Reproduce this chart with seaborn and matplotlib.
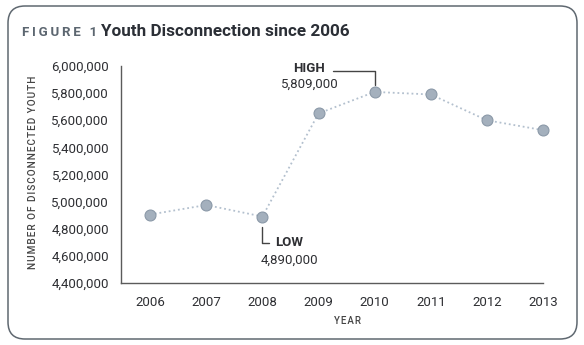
import matplotlib
matplotlib.use("Agg")
import matplotlib.pyplot as plt
import matplotlib.transforms as mtransforms
from matplotlib.patches import FancyBboxPatch
from matplotlib.lines import Line2D
import seaborn as sns
import pandas as pd

years = [2006, 2007, 2008, 2009, 2010, 2011, 2012, 2013]
youth = [4905000, 4975000, 4890000, 5650000, 5809000, 5790000, 5600000, 5527000]
y_ticks = [4400000, 4600000, 4800000, 5000000, 5200000, 5400000, 5600000, 5800000, 6000000]
title_tag = "FIGURE 1"
title_text = "Youth Disconnection since 2006"
y_title = "NUMBER OF DISCONNECTED YOUTH"
x_title = "YEAR"
low_year, low_label = 2008, "4,890,000"
high_year, high_label = 2010, "5,809,000"

sns.set_style("white")
plt.rcParams["font.family"] = ["Roboto", "DejaVu Sans"]

df = pd.DataFrame({"year": years, "youth": youth})

W, H = 584, 345
fig = plt.figure(figsize=(W / 100, H / 100), dpi=100)
ax = fig.add_axes([121 / W, (H - 283) / H, (543 - 121) / W, (283 - 66) / H])

dark = "#2e2f33"
line_col = "#b3c0ce"
mk_face = "#a4b0bd"
mk_edge = "#8b99a8"

sns.lineplot(data=df, x="year", y="youth", ax=ax, color=line_col, linestyle=(0, (1, 1.6)),
             linewidth=1.3, zorder=2)
sns.scatterplot(data=df, x="year", y="youth", ax=ax, color=mk_face, edgecolor=mk_edge,
                linewidth=0.8, s=62, zorder=3)
for c in ax.collections:
    c.set_clip_on(False)
for ln in ax.lines:
    ln.set_clip_on(False)

ax.set_xlim(2005.48, 2013)
ax.set_ylim(4400000, 6000000)
ax.set_xticks(years)
ax.set_xticklabels([str(y) for y in years])
ax.set_yticks(y_ticks)
ax.set_yticklabels([f"{v:,}" for v in y_ticks])
ax.set_xlabel("")
ax.set_ylabel("")
for s in ["top", "right"]:
    ax.spines[s].set_visible(False)
for s in ["left", "bottom"]:
    ax.spines[s].set_color("#5b5b5b")
    ax.spines[s].set_linewidth(1.0)
ax.tick_params(axis="both", direction="out", length=5, width=1.0, color="#5b5b5b",
               labelsize=9.5, labelcolor=dark)
ax.tick_params(axis="y", pad=3.5)
ax.tick_params(axis="x", pad=4)

def spaced(s, sep="\u200a"):
    return sep.join(list(s))

# axis titles
fig.text(33 / W, 1 - 172 / H, spaced(y_title), rotation=90, ha="center", va="center",
         fontsize=7.2, color="#444", fontweight="medium")
fig.text(347 / W, 1 - 321 / H, spaced(x_title), ha="center", va="center",
         fontsize=7.0, color="#444", fontweight="medium")

# title
fig.text(22 / W, 1 - 32 / H, spaced(title_tag, "\u2009"), ha="left", va="center",
         fontsize=9.5, color="#5c6670", fontweight="bold")
fig.text(101 / W, 1 - 32 / H, title_text, ha="left", va="center",
         fontsize=12.3, color="#2b2f36", fontweight="bold")

# annotations (pixel offsets from data points)
def add_poly(anchor, pts):
    dx, dy = ax.transData.transform(anchor)
    t = mtransforms.Affine2D().translate(dx, dy)
    xs = [p[0] for p in pts]
    ys = [p[1] for p in pts]
    fig.add_artist(Line2D(xs, ys, transform=t, color="#444", linewidth=1.0))

low_val = youth[years.index(low_year)]
high_val = youth[years.index(high_year)]

add_poly((low_year, low_val), [(0, -10), (0, -26), (7, -26)])
ax.annotate("LOW", (low_year, low_val), xytext=(26.5, -26), textcoords="offset pixels",
            ha="center", va="center", fontsize=9.5, fontweight="bold", color=dark)
ax.annotate(low_label, (low_year, low_val), xytext=(27, -44), textcoords="offset pixels",
            ha="center", va="center", fontsize=9.5, color=dark)

add_poly((high_year, high_val), [(0, 7), (0, 21), (-42, 21)])
ax.annotate("HIGH", (high_year, high_val), xytext=(-66, 23.5), textcoords="offset pixels",
            ha="center", va="center", fontsize=9.5, fontweight="bold", color=dark)
ax.annotate(high_label, (high_year, high_val), xytext=(-65, 7.5), textcoords="offset pixels",
            ha="center", va="center", fontsize=9.5, color=dark)

# rounded frame
frame = FancyBboxPatch((8, H - 339), 577 - 8, 339 - 6,
                       boxstyle="round,pad=0,rounding_size=17",
                       transform=mtransforms.IdentityTransform(),
                       facecolor="none", edgecolor="#5f6870", linewidth=1.1)
fig.add_artist(frame)

fig.savefig("out.png", dpi=100)
